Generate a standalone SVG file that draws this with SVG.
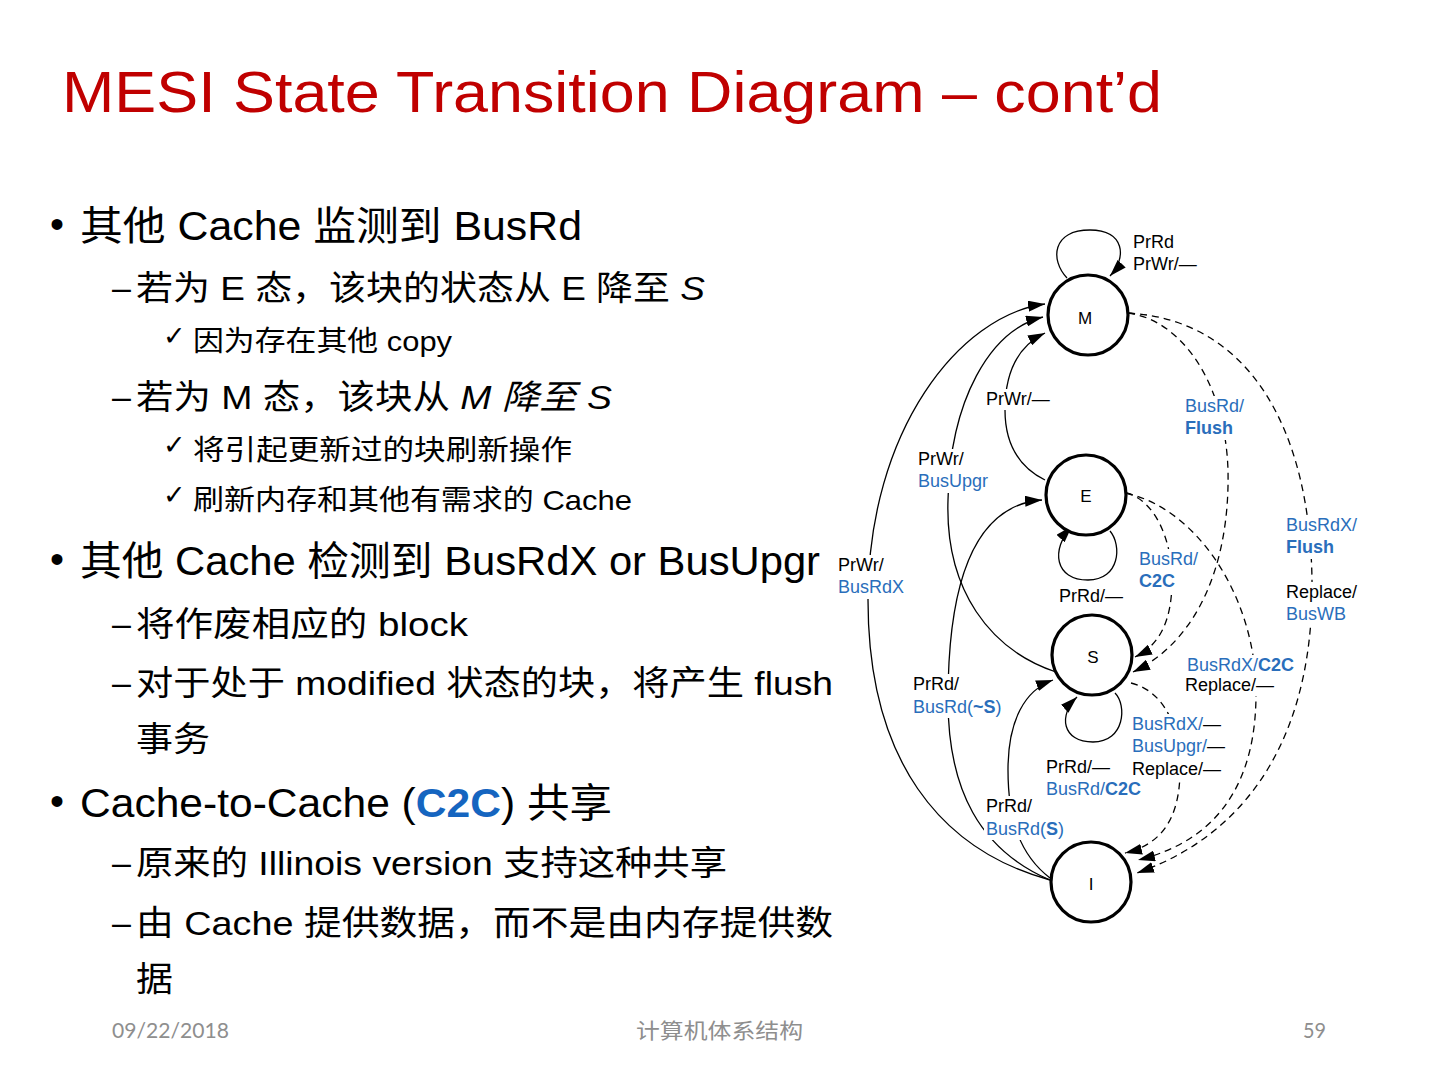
<svg xmlns="http://www.w3.org/2000/svg" width="1440" height="1080" viewBox="0 0 1440 1080">
<defs>
<marker id="ah" viewBox="0 0 17 11" refX="17" refY="5.5" markerWidth="17" markerHeight="11" markerUnits="userSpaceOnUse" orient="auto"><path d="M0,0 L17,5.5 L0,11 z" fill="#000"/></marker>
<style>
.title{font-family:"Liberation Sans","Noto Sans CJK SC",sans-serif;font-size:58px;fill:#C00000}
.b{font-family:"Liberation Sans","Noto Sans CJK SC",sans-serif;font-size:40px;fill:#000}
.s{font-family:"Liberation Sans","Noto Sans CJK SC",sans-serif;font-size:34px;fill:#000}
.c{font-family:"Liberation Sans","Noto Sans CJK SC",sans-serif;font-size:28px;fill:#000}
.ck{font-family:"DejaVu Sans","Noto Sans CJK SC",sans-serif;font-size:27px;fill:#000}
.ft{font-family:"Lato","Noto Sans CJK SC",sans-serif;font-size:21px;fill:#8E8E8E}
.node circle{fill:#fff;stroke:#000;stroke-width:3.2}
.node text{font-family:"Liberation Sans",Arial,sans-serif;font-size:17px;fill:#000;text-anchor:middle}
.sol{fill:none;stroke:#000;stroke-width:1.3;marker-end:url(#ah)}
.dsh{fill:none;stroke:#000;stroke-width:1.3;stroke-dasharray:7 5;marker-end:url(#ah)}
.lbl{font-family:"Liberation Sans",Arial,sans-serif;font-size:18px;fill:#000}
.bg{fill:#fff}
.bl{fill:#2A6EBB}
.bd{font-weight:bold}
</style>
</defs>
<rect width="1440" height="1080" fill="#fff"/>

<text class="title" x="62" y="112" textLength="1100" lengthAdjust="spacingAndGlyphs">MESI State Transition Diagram – cont’d</text>

<g id="text-left">
<text class="b" x="50" y="238">•</text>
<text class="b" x="80" y="240" textLength="502" lengthAdjust="spacingAndGlyphs">其他 Cache  监测到 BusRd</text>
<text class="s" x="112" y="299">–</text>
<text class="s" x="136" y="300" textLength="569" lengthAdjust="spacingAndGlyphs">若为 E 态，该块的状态从 E 降至  <tspan font-style="italic">S</tspan></text>
<text class="ck" x="163" y="345">✓</text>
<text class="c" x="193" y="351" textLength="259" lengthAdjust="spacingAndGlyphs">因为存在其他 copy</text>
<text class="s" x="112" y="408">–</text>
<text class="s" x="136" y="409" textLength="476" lengthAdjust="spacingAndGlyphs">若为 M 态，该块从 <tspan font-style="italic">M 降至  S</tspan></text>
<text class="ck" x="163" y="454">✓</text>
<text class="c" x="193" y="460" textLength="379" lengthAdjust="spacingAndGlyphs">将引起更新过的块刷新操作</text>
<text class="ck" x="163" y="504">✓</text>
<text class="c" x="193" y="510" textLength="439" lengthAdjust="spacingAndGlyphs">刷新内存和其他有需求的 Cache</text>
<text class="b" x="50" y="573">•</text>
<text class="b" x="80" y="575" textLength="740" lengthAdjust="spacingAndGlyphs">其他 Cache 检测到 BusRdX or BusUpgr</text>
<text class="s" x="112" y="635">–</text>
<text class="s" x="136" y="636" textLength="332" lengthAdjust="spacingAndGlyphs">将作废相应的  block</text>
<text class="s" x="112" y="694">–</text>
<text class="s" x="136" y="695" textLength="697" lengthAdjust="spacingAndGlyphs">对于处于 modified 状态的块，将产生 flush</text>
<text class="s" x="136" y="751" textLength="74" lengthAdjust="spacingAndGlyphs">事务</text>
<text class="b" x="50" y="815">•</text>
<text class="b" x="80" y="817" textLength="532" lengthAdjust="spacingAndGlyphs">Cache-to-Cache (<tspan fill="#1565C0" font-weight="bold">C2C</tspan>)  共享</text>
<text class="s" x="112" y="874">–</text>
<text class="s" x="136" y="875" textLength="591" lengthAdjust="spacingAndGlyphs">原来的 Illinois version 支持这种共享</text>
<text class="s" x="112" y="934">–</text>
<text class="s" x="136" y="935" textLength="697" lengthAdjust="spacingAndGlyphs">由 Cache  提供数据，而不是由内存提供数</text>
<text class="s" x="136" y="991" textLength="37" lengthAdjust="spacingAndGlyphs">据</text>
</g>

<g id="footer">
<text class="ft" x="112" y="1038" textLength="117" lengthAdjust="spacingAndGlyphs">09/22/2018</text>
<text class="ft" x="636" y="1038" textLength="167" lengthAdjust="spacingAndGlyphs">计算机体系结构</text>
<text class="ft" x="1303" y="1038" textLength="23" lengthAdjust="spacingAndGlyphs">59</text>
</g>

<g id="connectors">
<path class="sol" d="M1067,278 C1050,260 1052,230 1090,230 C1125,230 1127,258 1110,276"/>
<path class="sol" d="M1050,880 C940,850 868,760 868,600 C868,430 960,315 1045,304"/>
<path class="sol" d="M1056,672 C990,650 945,590 948,500 C950,400 990,330 1043,317"/>
<path class="sol" d="M1045,480 C1015,465 1005,440 1005,410 C1005,370 1020,345 1045,333"/>
<path class="sol" d="M1050,880 C980,850 948,790 948,700 C948,580 975,505 1042,500"/>
<path class="sol" d="M1050,878 C1020,855 1008,820 1008,770 C1008,720 1025,690 1053,680"/>
<path class="sol" d="M1110,531 C1122,545 1120,580 1088,580 C1055,580 1050,550 1072,526"/>
<path class="sol" d="M1115,693 C1127,705 1125,742 1093,742 C1062,742 1058,715 1077,697"/>
<path class="dsh" d="M1128,313 C1180,320 1225,380 1228,470 C1230,560 1200,640 1133,672"/>
<path class="dsh" d="M1128,313 C1250,320 1310,430 1312,580 C1314,720 1260,830 1137,873"/>
<path class="dsh" d="M1126,493 C1155,500 1172,540 1172,580 C1172,620 1160,645 1135,657"/>
<path class="dsh" d="M1126,493 C1200,510 1255,600 1256,690 C1257,780 1220,840 1138,860"/>
<path class="dsh" d="M1131,683 C1160,690 1180,720 1180,770 C1180,820 1160,845 1125,853"/>
</g>

<g id="node-M" class="node"><circle cx="1088" cy="315" r="40"/><text x="1085" y="324">M</text></g>
<g id="node-E" class="node"><circle cx="1086" cy="495" r="40"/><text x="1086" y="502">E</text></g>
<g id="node-S" class="node"><circle cx="1092" cy="655" r="40"/><text x="1093" y="663">S</text></g>
<g id="node-I" class="node"><circle cx="1091" cy="882" r="40"/><text x="1091" y="890">I</text></g>

<g id="labels">
<rect class="bg" x="984" y="389" width="68" height="21"/>
<rect class="bg" x="1183" y="396" width="64" height="44"/>
<rect class="bg" x="916" y="449" width="74" height="44"/>
<rect class="bg" x="1284" y="515" width="76" height="44"/>
<rect class="bg" x="1284" y="582" width="76" height="44"/>
<rect class="bg" x="1137" y="549" width="62" height="44"/>
<rect class="bg" x="836" y="555" width="70" height="44"/>
<rect class="bg" x="1183" y="655" width="114" height="41"/>
<rect class="bg" x="911" y="674" width="92" height="44"/>
<rect class="bg" x="1130" y="714" width="96" height="66"/>
<rect class="bg" x="1044" y="757" width="100" height="44"/>
<rect class="bg" x="984" y="796" width="82" height="44"/>
<text class="lbl" x="1133" y="248">PrRd</text>
<text class="lbl" x="1133" y="270">PrWr/—</text>
<text class="lbl" x="986" y="405">PrWr/—</text>
<text class="lbl bl" x="1185" y="412">BusRd/</text>
<text class="lbl bl bd" x="1185" y="434">Flush</text>
<text class="lbl" x="918" y="465">PrWr/</text>
<text class="lbl bl" x="918" y="487">BusUpgr</text>
<text class="lbl bl" x="1286" y="531">BusRdX/</text>
<text class="lbl bl bd" x="1286" y="553">Flush</text>
<text class="lbl" x="1286" y="598">Replace/</text>
<text class="lbl bl" x="1286" y="620">BusWB</text>
<text class="lbl bl" x="1139" y="565">BusRd/</text>
<text class="lbl bl bd" x="1139" y="587">C2C</text>
<text class="lbl" x="838" y="571">PrWr/</text>
<text class="lbl bl" x="838" y="593">BusRdX</text>
<text class="lbl" x="1059" y="602">PrRd/—</text>
<text class="lbl bl" x="1187" y="671">BusRdX/<tspan class="bd">C2C</tspan></text>
<text class="lbl" x="1185" y="691">Replace/—</text>
<text class="lbl" x="913" y="690">PrRd/</text>
<text class="lbl bl" x="913" y="713">BusRd(<tspan class="bd">~S</tspan>)</text>
<text class="lbl" x="1132" y="730"><tspan class="bl">BusRdX/</tspan>—</text>
<text class="lbl" x="1132" y="752"><tspan class="bl">BusUpgr/</tspan>—</text>
<text class="lbl" x="1132" y="775">Replace/—</text>
<text class="lbl" x="1046" y="773">PrRd/—</text>
<text class="lbl bl" x="1046" y="795">BusRd/<tspan class="bd">C2C</tspan></text>
<text class="lbl" x="986" y="812">PrRd/</text>
<text class="lbl bl" x="986" y="835">BusRd(<tspan class="bd">S</tspan>)</text>
</g>
</svg>
